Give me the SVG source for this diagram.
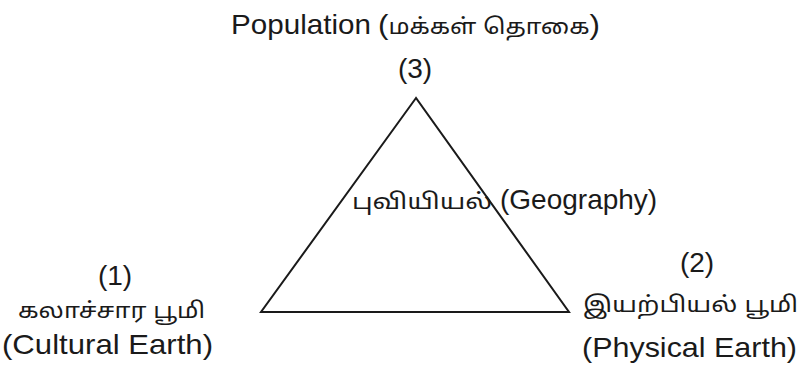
<svg xmlns="http://www.w3.org/2000/svg" width="799" height="367" viewBox="0 0 799 367">
<style>
text{font-family:"Liberation Sans","Noto Sans Tamil","Noto Sans",Arial,sans-serif;fill:#1a1a1a;font-size:28px}
.ta{font-size:22px}
.c{text-anchor:middle}
.edge{fill:none;stroke:#1a1a1a;stroke-width:2;stroke-linejoin:miter}
</style>
<rect width="799" height="367" fill="#ffffff"/>
<g id="connectors">
<polygon class="edge" points="416,98 261,312 569,312"/>
</g>
<g id="node-population">
<text x="231" y="34" textLength="140" lengthAdjust="spacingAndGlyphs">Population</text>
<text x="378" y="34" textLength="222" lengthAdjust="spacingAndGlyphs">(<tspan class="ta">மக்கள் தொகை</tspan>)</text>
<text x="415" y="78" class="c">(3)</text>
</g>
<g id="node-geography">
<text x="352" y="209" textLength="140" lengthAdjust="spacingAndGlyphs" class="ta">புவியியல்</text>
<text x="500" y="209">(Geography)</text>
</g>
<g id="node-cultural">
<text x="115" y="285" class="c">(1)</text>
<text x="18" y="318" textLength="187" lengthAdjust="spacingAndGlyphs" class="ta">கலாச்சார பூமி</text>
<text x="2" y="354" textLength="211" lengthAdjust="spacingAndGlyphs">(Cultural Earth)</text>
</g>
<g id="node-physical">
<text x="697" y="272" class="c">(2)</text>
<text x="583" y="312" textLength="215" lengthAdjust="spacingAndGlyphs" class="ta">இயற்பியல் பூமி</text>
<text x="582" y="357" textLength="215" lengthAdjust="spacingAndGlyphs">(Physical Earth)</text>
</g>
</svg>
